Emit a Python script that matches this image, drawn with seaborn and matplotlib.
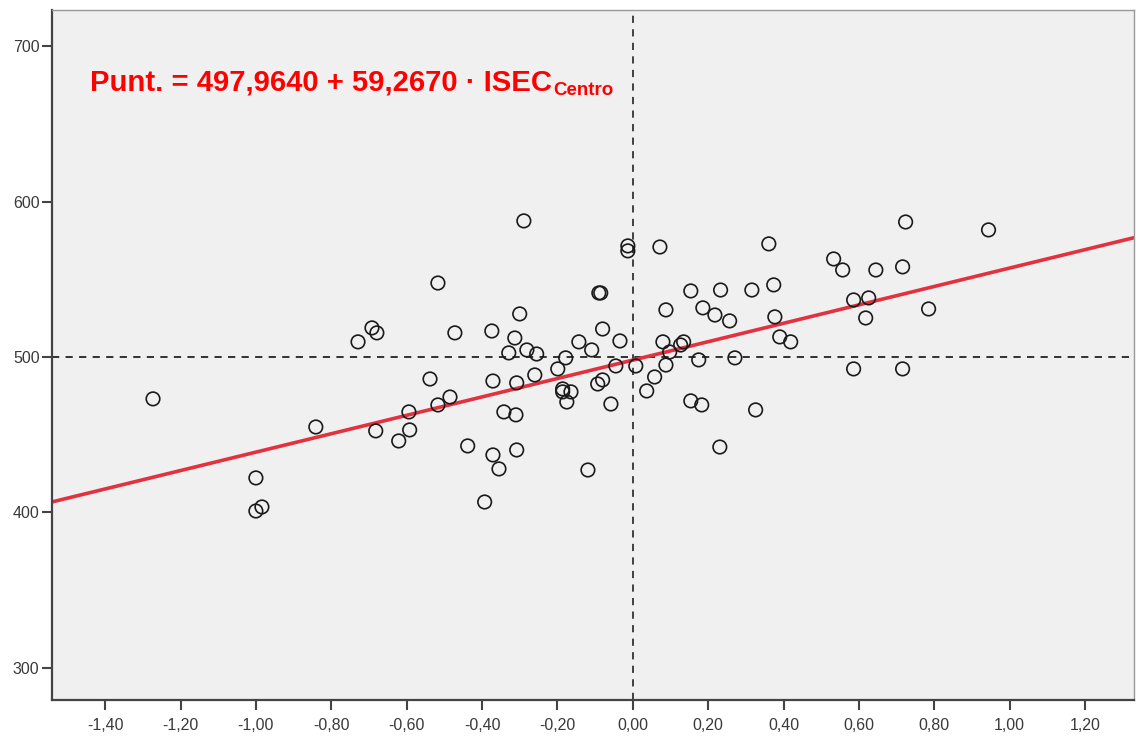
import matplotlib
matplotlib.use("Agg")
import matplotlib.pyplot as plt
import matplotlib.transforms as mtransforms
import numpy as np
import pandas as pd
import seaborn as sns

# data
isec = [-1.273, -1.000, -1.000, -0.984, -0.841, -0.729, -0.692, -0.679, -0.682, -0.621,
        -0.594, -0.592, -0.538, -0.517, -0.517, -0.485, -0.472, -0.438, -0.393, -0.374,
        -0.371, -0.371, -0.355, -0.342, -0.329, -0.313, -0.308, -0.308, -0.310, -0.300,
        -0.289, -0.281, -0.260, -0.255, -0.199, -0.186, -0.186, -0.178, -0.175, -0.164,
        -0.143, -0.119, -0.109, -0.090, -0.085, -0.093, -0.080, -0.080, -0.058, -0.045,
        -0.034, -0.013, -0.013, 0.008, 0.037, 0.058, 0.072, 0.080, 0.088, 0.088,
        0.098, 0.127, 0.135, 0.154, 0.154, 0.175, 0.183, 0.186, 0.218, 0.231,
        0.233, 0.257, 0.271, 0.316, 0.326, 0.361, 0.374, 0.377, 0.390, 0.419,
        0.533, 0.557, 0.586, 0.586, 0.618, 0.626, 0.645, 0.716, 0.716, 0.724,
        0.785, 0.944]
punt = [473.0, 422.1, 400.8, 403.4, 454.9, 509.7, 518.7, 515.5, 452.4, 445.9,
        464.6, 453.0, 485.8, 547.6, 469.1, 474.2, 515.5, 442.7, 406.6, 516.7,
        484.5, 436.9, 427.9, 464.6, 502.6, 512.2, 440.1, 483.3, 462.7, 527.7,
        587.6, 504.5, 488.4, 501.9, 492.3, 479.4, 477.5, 499.4, 471.0, 477.5,
        509.7, 427.2, 504.5, 541.2, 541.2, 482.6, 485.2, 518.0, 469.7, 494.2,
        510.3, 571.5, 568.3, 494.2, 478.1, 487.1, 570.8, 509.7, 530.3, 494.8,
        503.2, 507.7, 509.7, 471.7, 542.5, 498.1, 469.1, 531.6, 527.0, 442.0,
        543.1, 523.2, 499.4, 543.1, 465.9, 572.8, 546.4, 525.8, 512.9, 509.7,
        563.1, 556.0, 536.7, 492.3, 525.1, 538.0, 556.0, 558.0, 492.3, 586.9,
        530.9, 581.8]

intercept = 497.9640
slope = 59.2670
ref_x = 0.0
ref_y = 500

x_ticks = [-1.4, -1.2, -1.0, -0.8, -0.6, -0.4, -0.2, 0.0, 0.2, 0.4, 0.6, 0.8, 1.0, 1.2]
y_ticks = [300, 400, 500, 600, 700]

df = pd.DataFrame({"ISEC": isec, "Punt": punt})

sns.set_style("white")
plt.rcParams["font.family"] = ["Liberation Sans", "DejaVu Sans"]

fig = plt.figure(figsize=(11.36, 7.38), dpi=100)
ax = fig.add_axes([52 / 1136, 1 - 700 / 738, (1134 - 52) / 1136, 690 / 738])
ax.set_facecolor("#f0f0f0")

xlim = (-1.541, 1.330)
ax.set_xlim(*xlim)
ax.set_ylim(279.1, 723.4)

# reference lines
ax.axvline(ref_x, color="#333333", lw=1.3, ls=(0, (4, 3.5)), zorder=1)
ax.axhline(ref_y, color="#222222", lw=1.3, ls=(0, (4, 3.5)), zorder=1)

# regression line from the equation
xs = np.array(xlim)
ax.plot(xs, intercept + slope * xs, color="#e2313f", lw=2.6, zorder=2)

sns.scatterplot(data=df, x="ISEC", y="Punt", ax=ax, s=95, facecolor="none",
                edgecolor="#1a1a1a", linewidth=1.2, zorder=3, legend=False)

ax.set_xticks(x_ticks)
ax.set_xticklabels([f"{v:.2f}".replace(".", ",") for v in x_ticks])
ax.set_yticks(y_ticks)
ax.set_xlabel("")
ax.set_ylabel("")
ax.tick_params(axis="both", direction="out", length=7, width=1.5, color="#444444",
               labelsize=11.5, labelcolor="#3a3a3a", pad=2, bottom=True, left=True)
ax.tick_params(axis="x", pad=6)
for side in ["left", "bottom"]:
    ax.spines[side].set_color("#444444")
    ax.spines[side].set_linewidth(1.6)
for side in ["top", "right"]:
    ax.spines[side].set_color("#999999")
    ax.spines[side].set_linewidth(1.0)

# equation label
t = ax.text(-1.440, 671.3, "Punt. = 497,9640 + 59,2670 · ISEC", color="#ff0000",
            fontsize=21.1, fontweight="bold", va="baseline", ha="left")
fig.canvas.draw()
bb = t.get_window_extent()
base = ax.transData.transform((-1.440, 671.3))[1]
fig.text(bb.x1 + 1, base - 4, "Centro", color="#ff0000", fontsize=13.5,
         fontweight="bold", va="baseline", ha="left",
         transform=mtransforms.IdentityTransform())

fig.savefig("out.png", dpi=100)
